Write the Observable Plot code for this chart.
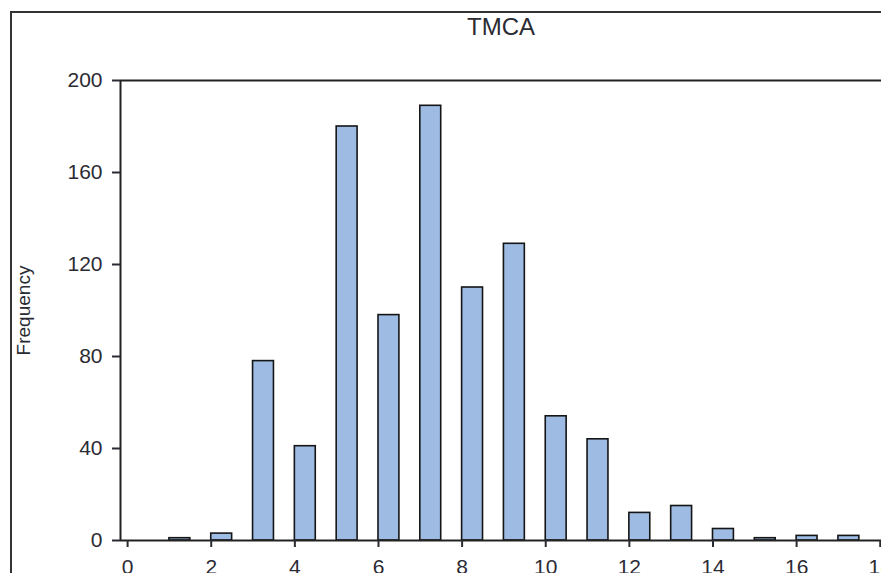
<!DOCTYPE html>
<html>
<head>
<meta charset="utf-8">
<script src="https://cdn.jsdelivr.net/npm/d3@7"></script>
<script src="https://cdn.jsdelivr.net/npm/@observablehq/plot@0.6"></script>
<style>
  html, body { margin: 0; padding: 0; background: #fff; overflow: hidden; }
  #wrap { position: relative; width: 881px; height: 573px; overflow: hidden; }
  #wrap svg { position: absolute; left: 0; top: 0; }
  #outer { position: absolute; left: 10px; top: 11px; width: 960px; height: 700px;
           border-left: 2px solid #333; border-top: 2px solid #333; }
</style>
</head>
<body>
<div id="wrap"><div id="outer"></div></div>
<script>
const title = "TMCA";
const yLabel = "Frequency";
const bins = [1, 2, 3, 4, 5, 6, 7, 8, 9, 10, 11, 12, 13, 14, 15, 16, 17];
const counts = [1, 3, 78, 41, 180, 98, 189, 110, 129, 54, 44, 12, 15, 5, 1, 2, 2];
const xTicks = [0, 2, 4, 6, 8, 10, 12, 14, 16, 18];
const yTicks = [0, 40, 80, 120, 160, 200];

const binWidth = 0.5;
const data = bins.map((b, i) => ({bin: b, count: counts[i]}));

const chart = Plot.plot({
  width: 881,
  height: 573,
  marginLeft: 120,
  marginRight: 0,
  marginTop: 80,
  marginBottom: 33,
  style: {fontFamily: "'Liberation Sans', Arial, sans-serif", fontSize: "21px", color: "#2b2b33", background: "transparent"},
  x: {domain: [-0.17, 18.03]},
  y: {domain: [0, 200]},
  marks: [
    Plot.rectY(data, {x1: "bin", x2: d => d.bin + binWidth, y: "count", fill: "#9dbbe3", stroke: "#151515", strokeWidth: 1.6}),
    Plot.ruleY([0], {stroke: "#222", strokeWidth: 2}),
    Plot.ruleY([200], {stroke: "#222", strokeWidth: 2}),
    Plot.ruleX([-0.17], {stroke: "#222", strokeWidth: 2}),
    Plot.axisY({ticks: yTicks, tickSize: 8, tickPadding: 10, label: null, strokeWidth: 2}),
    Plot.axisX({ticks: xTicks, tickSize: 7, tickPadding: 12, label: null, strokeWidth: 2}),
    Plot.text([title], {frameAnchor: "top", dy: -53, lineAnchor: "middle", textAnchor: "middle", fontSize: 24, fill: "#2b2b33"}),
    Plot.text([yLabel], {frameAnchor: "left", dx: -97, rotate: -90, lineAnchor: "middle", textAnchor: "middle", fontSize: 19, fill: "#2b2b33"})
  ]
});
document.getElementById("wrap").appendChild(chart);
</script>
</body>
</html>
